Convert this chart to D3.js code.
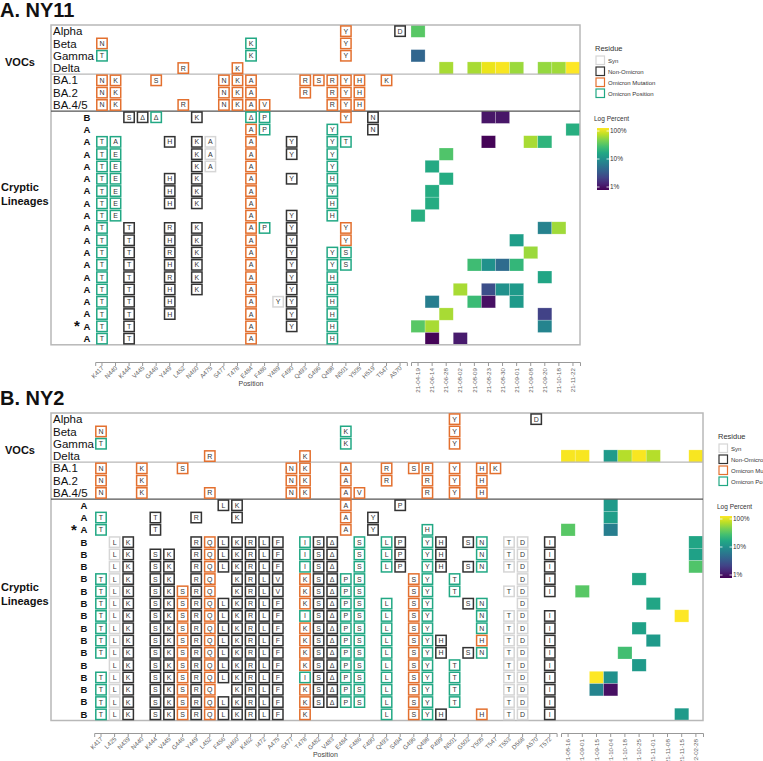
<!DOCTYPE html>
<html><head><meta charset="utf-8">
<script src="https://cdn.jsdelivr.net/npm/d3@7"></script>
<style>body{margin:0;background:#fff;} text{font-family:"Liberation Sans",Arial,sans-serif;}</style>
</head><body><svg id="c" width="763" height="761"></svg>
<script>
// ---------------- DATA ----------------
const vocLabels = ["Alpha","Beta","Gamma","Delta"];
const baLabels = ["BA.1","BA.2","BA.4/5"];
const residueTypes = ["Syn","Non-Omicron","Omicron Mutation","Omicron Position"];
const typeCodes = ["s","n","m","p"];
const legendTicks = [100,10,1];

// Panel A (NY11)
const positionsA = ["K417","N440","K444","V445","G446","Y449","L452","N460","A475","S477","T478","E484","F486","Y489","F490","Q493","G496","Q498","N501","Y505","H519","T547","A570"];
const datesA = ["21-04-19","21-06-14","21-06-28","21-08-02","21-08-09","21-08-23","21-08-30","21-09-01","21-09-08","21-09-20","21-10-18","21-11-22"];
const vocMutA = [
 "N501Ym A570Dn",
 "K417Nm E484Kp N501Ym",
 "K417Tp E484Kp N501Ym",
 "L452Rm T478Km"];
const baMutA = [
 "K417Nm N440Km G446Sm S477Nm T478Km E484Am Q493Rm G496Sm Q498Rm N501Ym Y505Hm T547Km",
 "K417Nm N440Km S477Nm T478Km E484Am Q493Rm Q498Rm N501Ym Y505Hm",
 "K417Nm N440Km L452Rm S477Nm T478Km E484Am F486Vm Q498Rm N501Ym Y505Hm"];
const cryptLabelsA = ["B","A","A","A","A","A","A","A","A","A","A","A","A","A","A","A","A","*A","A"];
const cryptMutA = [
 "K444Sn V445Δn G446Δp N460Kn E484Δp F486Pp N501Ym H519Nn",
 "E484Am F486Pp Q498Yp H519Nn",
 "K417Tp N440Ap Y449Hn N460Kn A475As E484Am F490Yn Q498Yp N501Tp",
 "K417Tp N440Ep N460Kn A475As E484Am F490Yn Q498Yp",
 "K417Tp N440Ep N460Kn A475As E484Am Q498Yp",
 "K417Tp N440Ep Y449Hn N460Kn E484Am F490Yn Q498Hp",
 "K417Tp N440Ep Y449Hn N460Kn E484Am Q498Yp",
 "K417Tp N440Ep Y449Hn N460Kn E484Am Q498Hp",
 "K417Tp N440Ep E484Am F490Yn Q498Hp",
 "K417Tp K444Tn Y449Rn N460Kn E484Am F486Pp F490Yn N501Ym",
 "K417Tp K444Tn Y449Hn N460Kn E484Am F490Yn N501Ym",
 "K417Tp K444Tn Y449Rn N460Kn E484Am F490Yn Q498Yp N501Sp",
 "K417Tp K444Tn Y449Hn N460Kn E484Am F490Yn Q498Yp N501Sp",
 "K417Tp K444Tn Y449Rn N460Kn E484Am F490Yn Q498Hp",
 "K417Tp K444Tn Y449Hn N460Kn E484Am F490Yn Q498Hp",
 "K417Tp K444Tn Y449Hn E484Am Y489Ys F490Yn Q498Hp",
 "K417Tp K444Tn Y449Hn E484Am F490Yn Q498Hp",
 "K417Tp K444Tn E484Am F490Yn Q498Hp",
 "K417Tp K444Tn E484Am Q498Hp"];
// heatmap: row index (all rows) -> [[dateIndex, percent], ...]
const heatA = [
 [[0,30]], [], [[0,4.5]],
 [[2,55],[4,55],[5,88],[6,95],[7,50],[9,48],[10,52],[11,100]],
 [], [], [],
 [[5,1.3],[6,1.3]],
 [[11,18]],
 [[5,1.05],[8,55],[9,20]],
 [[2,28]],
 [[1,16]],
 [[2,17]],
 [[1,17]],
 [[1,17]],
 [[0,18]],
 [[9,7.5],[10,52]],
 [[7,13]],
 [[8,50]],
 [[4,24],[5,10],[6,5],[7,21]],
 [[9,15]],
 [[3,55],[5,3],[6,10],[7,12]],
 [[1,7],[4,23],[5,1.2],[7,12]],
 [[2,55],[9,2.5]],
 [[0,30],[1,55],[9,8]],
 [[1,1.05],[3,1.4]]];

// Panel B (NY2)
const positionsB = ["K417","L425","N439","N440","K444","V445","G446","Y449","L452","F456","N460","K462","I472","A475","S477","T478","G482","V483","E484","F486","F490","Q493","S494","G496","Q498","P499","N501","G502","Y505","T547","T553","D568","A570","T572"];
const datesB = ["21-08-16","21-09-01","21-09-15","21-10-04","21-10-18","21-10-25","21-11-01","21-11-08","21-11-15","22-02-28"];
const vocMutB = vocMutA;
const baMutB = baMutA;
const cryptLabelsB = ["A","A","*A","B","B","B","B","B","B","B","B","B","B","B","B","B","B","B"];
const cryptMutB = [
 "F456Ln N460Kn E484Am S494Pn",
 "K417Tp K444Tn Y449Rn N460Kn E484Am F490Yn",
 "K417Tp K444Tn E484Am F490Yn Q498Hp",
 "L425Ls N439Kn Y449Rn L452Qm F456Ln N460Kn K462Rn I472Ln A475Fn T478Ip G482Sn V483Δn F486Sp Q493Lp S494Pn Q498Yp P499Hn G502Sn Y505Np T553Ts D568Ds T572In",
 "L425Ls N439Kn K444Sn V445Kn Y449Rn L452Qm F456Ln N460Kn K462Rn I472Ln A475Fn T478Ip G482Sn V483Δn F486Sp Q493Lp S494Pn Q498Yp P499Hn Y505Np T553Ts D568Ds T572In",
 "L425Ls N439Kn K444Sn V445Kn Y449Rn L452Qm F456Ln N460Kn K462Rn I472Ln A475Fn T478Ip G482Sn V483Δn F486Sp Q493Lp S494Pn Q498Yp P499Hn G502Sn Y505Np T553Ts D568Ds T572In",
 "K417Tp L425Ls N439Kn K444Sn V445Kn Y449Rn L452Qm N460Kn K462Rn I472Ln A475Vn T478Km G482Sn V483Δn E484Pp F486Sp G496Sm Q498Yp N501Tp D568Ds T572In",
 "K417Tp L425Ls N439Kn K444Sn V445Kn G446Sm Y449Rn L452Qm N460Kn K462Rn I472Ln A475Vn T478Km G482Sn V483Δn E484Pp F486Sp G496Sm Q498Yp N501Tp T553Ts D568Ds T572In",
 "K417Tp L425Ls N439Kn K444Sn V445Kn G446Sm Y449Rn L452Qm F456Ln N460Kn K462Rn I472Ln A475Fn T478Km G482Sn V483Δn E484Pp F486Sp Q493Lp G496Sm Q498Yp G502Sn Y505Np D568Ds",
 "K417Tp L425Ls N439Kn K444Sn V445Kn G446Sm Y449Rn L452Qm F456Ln N460Kn K462Rn I472Ln A475Fn T478Ip G482Sn V483Δn E484Pp F486Sp Q493Lp G496Sm Q498Yp Y505Np T553Ts D568Ds T572In",
 "K417Tp L425Ls N439Kn K444Sn V445Kn G446Sm Y449Rn L452Qm F456Ln N460Kn K462Rn I472Ln A475Fn T478Km G482Sn V483Δn E484Pp F486Sp Q493Lp G496Sm Q498Yp Y505Np T553Ts D568Ds T572In",
 "K417Tp L425Ls N439Kn K444Sn V445Kn G446Sm Y449Rn L452Qm F456Ln N460Kn K462Rn I472Ln A475Fn T478Km G482Sn V483Δn E484Pp F486Sp Q493Lp G496Sm Q498Yp P499Hn Y505Hm T553Ts D568Ds T572In",
 "K417Tp L425Ls N439Kn K444Sn V445Kn G446Sm Y449Rn L452Qm F456Ln N460Kn K462Rn I472Ln A475Fn T478Km G482Sn V483Δn E484Pp F486Sp Q493Lp G496Sm Q498Yp P499Hn G502Sn Y505Np T553Ts D568Ds T572In",
 "L425Ls N439Kn K444Sn V445Kn G446Sm Y449Rn L452Qm F456Ln N460Kn K462Rn I472Ln A475Fn T478Km G482Sn V483Δn E484Pp F486Sp Q493Lp G496Sm Q498Yp N501Tp T553Ts D568Ds T572In",
 "K417Tp L425Ls N439Kn K444Sn V445Kn G446Sm Y449Rn L452Qm F456Ln N460Kn K462Rn I472Ln A475Fn T478Ip G482Sn V483Δn E484Pp F486Sp Q493Lp G496Sm Q498Yp N501Tp T553Ts D568Ds T572In",
 "K417Tp L425Ls N439Kn K444Sn V445Kn G446Sm Y449Rn L452Qm N460Kn K462Rn I472Ln A475Fn T478Km G482Sn V483Δn E484Pp F486Sp Q493Lp G496Sm Q498Yp N501Tp T553Ts D568Ds T572In",
 "K417Tp L425Ls N439Kn K444Sn V445Kn G446Sm Y449Rn L452Qm F456Ln N460Kn K462Rn I472Ln A475Fn T478Km G482Sn V483Δn E484Pp F486Sp Q493Lp G496Sm Q498Yp N501Tp T553Ts D568Ds T572In",
 "K417Tp L425Ls N439Kn K444Sn V445Kn G446Sm Y449Rn L452Qm F456Ln N460Kn K462Rn I472Ln A475Fn T478Km Q493Lp G496Sm Q498Yp P499Hn Y505Hm T553Ts D568Ds T572In"];
const heatB = [
 [], [], [],
 [[0,95],[1,95],[3,12],[4,60],[5,95],[6,60],[9,95]],
 [], [], [],
 [[3,12]],
 [[3,13]],
 [[0,30],[3,7]],
 [[9,15]],
 [[9,14]],
 [[9,28]],
 [[5,15]],
 [[1,30]],
 [[6,15]],
 [[8,100]],
 [[5,14]],
 [[6,12]],
 [[4,25]],
 [[5,12]],
 [[2,100],[3,10]],
 [[2,8],[3,1.2]],
 [],
 [[8,12]]];

// ---------------- DRAWING ----------------
const svg = d3.select("#c");
const typeColor = {s:"#d6d6d6", n:"#333333", m:"#e3702f", p:"#22a884"};
const color = p => d3.interpolateViridis(Math.log10(p)/2);

svg.append("defs").append("linearGradient").attr("id","vir").attr("x1",0).attr("y1",1).attr("x2",0).attr("y2",0)
  .selectAll("stop").data(d3.range(0,1.001,0.1)).join("stop")
  .attr("offset",d=>d).attr("stop-color",d=>d3.interpolateViridis(d));

function drawPanel(P){
  const g = svg.append("g");
  const allLabels = [...vocLabels, ...baLabels, ...P.crypt];
  const nRows = allLabels.length;
  const y = d3.scaleBand().domain(d3.range(nRows)).range([P.top, P.top + P.rowH*nRows]);
  const x = d3.scaleBand().domain(P.positions).range([P.x0, P.x0 + P.step*P.positions.length]);
  const xd = d3.scaleBand().domain(P.dates).range([P.hx0, P.boxRight]);
  const bottom = P.top + P.rowH*nRows;

  g.append("text").attr("x",0).attr("y",P.top-8).attr("font-size",20).attr("font-weight","bold").attr("fill","#111").text(P.title);
  g.append("text").attr("x",5).attr("y",P.top+37).attr("dy","0.35em").attr("font-size",11).attr("font-weight","bold").attr("fill","#111").text("VOCs");
  P.cryptLbl.forEach((t,i)=> g.append("text").attr("x",1).attr("y",P.cryptLblY+i*14).attr("dy","0.35em").attr("font-size",11).attr("font-weight","bold").attr("fill","#111").text(t));

  const heatCells = [];
  P.heat.forEach((arr,r)=>arr.forEach(([c,v])=>heatCells.push({r,c,v})));
  g.selectAll("rect.h").data(heatCells).join("rect").attr("class","h")
    .attr("x",d=>xd(P.dates[d.c])).attr("y",d=>y(d.r)).attr("width",xd.bandwidth()).attr("height",y.bandwidth())
    .attr("fill",d=>color(d.v)).attr("stroke","#fff").attr("stroke-opacity",0.35).attr("stroke-width",0.6);

  g.append("rect").attr("x",P.boxLeft).attr("y",P.top).attr("width",P.boxRight-P.boxLeft).attr("height",bottom-P.top)
    .attr("fill","none").attr("stroke","#b8b8b8").attr("stroke-width",1.5);
  g.append("line").attr("x1",P.boxLeft).attr("x2",P.boxRight).attr("y1",y(4)).attr("y2",y(4)).attr("stroke","#b8b8b8").attr("stroke-width",1.3);
  g.append("line").attr("x1",P.boxLeft).attr("x2",P.boxRight).attr("y1",y(7)).attr("y2",y(7)).attr("stroke","#555").attr("stroke-width",1.3);

  g.selectAll("text.voc").data([...vocLabels,...baLabels]).join("text").attr("class","voc")
    .attr("x",P.boxLeft+2).attr("y",(d,i)=>y(i)+y.bandwidth()/2).attr("dy","0.36em").attr("font-size",11.5).attr("fill","#111").text(d=>d);
  g.selectAll("text.cl").data(P.crypt).join("text").attr("class","cl")
    .attr("x",P.lblX).attr("y",(d,i)=>y(i+7)+y.bandwidth()/2).attr("dy","0.36em").attr("text-anchor","middle")
    .attr("font-size",9.5).attr("font-weight","bold").attr("fill","#111").text(d=>d.replace("*",""));
  g.selectAll("text.star").data(P.crypt.map((d,i)=>({d,i})).filter(o=>o.d.startsWith("*"))).join("text").attr("class","star")
    .attr("x",P.lblX-10).attr("y",o=>y(o.i+7)+y.bandwidth()/2+5).attr("text-anchor","middle")
    .attr("font-size",15).attr("font-weight","bold").attr("fill","#111").text("*");

  const cells = [];
  [...P.vocMut, ...P.baMut, ...P.cryptMut].forEach((s,r)=>s.split(" ").filter(Boolean).forEach(tok=>{
    const m = tok.match(/^([A-Z]\d+)(.+)([snmp])$/u);
    if (m) cells.push({r,pos:m[1],res:m[2],t:m[3]});
  }));
  const bs = 10.4;
  const cg = g.selectAll("g.cell").data(cells).join("g").attr("class","cell")
    .attr("transform",d=>`translate(${x(d.pos)+x.bandwidth()/2},${y(d.r)+y.bandwidth()/2})`);
  cg.append("rect").attr("x",-bs/2).attr("y",-bs/2).attr("width",bs).attr("height",bs)
    .attr("fill","#fff").attr("stroke",d=>typeColor[d.t]).attr("stroke-width",1.5);
  cg.append("text").attr("text-anchor","middle").attr("dy","0.36em").attr("font-size",7).attr("fill","#333").text(d=>d.res);

  const ax = g.append("g").attr("transform",`translate(0,${P.axisY})`).call(d3.axisBottom(x).tickSizeOuter(0).tickSize(4));
  ax.select(".domain").attr("stroke","#999");
  ax.selectAll(".tick line").attr("stroke","#999");
  ax.selectAll(".tick text").attr("font-size",6.2).attr("fill","#666").attr("text-anchor","end")
    .attr("transform","rotate(-45)").attr("x",-3).attr("y",4).attr("dy","0.35em");
  const axd = g.append("g").attr("transform",`translate(0,${P.axisY})`).call(d3.axisBottom(xd).tickSizeOuter(0).tickSize(4));
  axd.select(".domain").attr("stroke","#999");
  axd.selectAll(".tick line").attr("stroke","#999");
  axd.selectAll(".tick text").attr("font-size",6.2).attr("fill","#666").attr("text-anchor","end")
    .attr("transform","rotate(-90)").attr("x",-6).attr("y",0).attr("dy","0.35em");
  g.append("text").attr("x",(x.range()[0]+x.range()[1])/2).attr("y",P.axisY+24).attr("text-anchor","middle")
    .attr("font-size",7).attr("fill","#444").text("Position");

  const lx = P.boxRight + 15, ly = P.top + 26;
  g.append("text").attr("x",lx).attr("y",ly).attr("font-size",7.5).attr("fill","#333").text("Residue");
  const lg = g.selectAll("g.leg").data(residueTypes).join("g").attr("class","leg")
    .attr("transform",(d,i)=>`translate(${lx+1},${ly+5+i*11})`);
  lg.append("rect").attr("width",8.5).attr("height",8.5).attr("fill","#fff").attr("stroke",(d,i)=>typeColor[typeCodes[i]]).attr("stroke-width",1.2);
  lg.append("text").attr("x",12).attr("y",4.5).attr("dy","0.35em").attr("font-size",6).attr("fill","#333").text(d=>d);

  const cy = P.top + 96;
  g.append("text").attr("x",lx-1).attr("y",cy).attr("font-size",6.5).attr("fill","#333").text("Log Percent");
  const ls = d3.scaleLog().domain([1,100]).range([cy+66, cy+10]);
  g.append("rect").attr("x",lx+2).attr("y",cy+7).attr("width",12).attr("height",62).attr("fill","url(#vir)");
  legendTicks.forEach(t=>{
    g.append("line").attr("x1",lx+2).attr("x2",lx+4.5).attr("y1",ls(t)).attr("y2",ls(t)).attr("stroke","#fff").attr("stroke-width",0.8);
    g.append("line").attr("x1",lx+11.5).attr("x2",lx+14).attr("y1",ls(t)).attr("y2",ls(t)).attr("stroke","#fff").attr("stroke-width",0.8);
    g.append("text").attr("x",lx+15).attr("y",ls(t)).attr("dy","0.35em").attr("font-size",6.5).attr("fill","#333").text(t+"%");
  });
}

drawPanel({title:"A. NY11", top:25, rowH:12.3, boxLeft:51, boxRight:580, x0:95.2, step:13.55, hx0:411,
  positions:positionsA, dates:datesA, vocMut:vocMutA, baMut:baMutA, crypt:cryptLabelsA, cryptMut:cryptMutA, heat:heatA,
  axisY:362, lblX:87, cryptLbl:["Cryptic","Lineages"], cryptLblY:187});
drawPanel({title:"B. NY2", top:413, rowH:12.3, boxLeft:51, boxRight:703, x0:94.2, step:13.6, hx0:561,
  positions:positionsB, dates:datesB, vocMut:vocMutB, baMut:baMutB, crypt:cryptLabelsB, cryptMut:cryptMutB, heat:heatB,
  axisY:733, lblX:84, cryptLbl:["Cryptic","Lineages"], cryptLblY:587});
</script></body></html>
